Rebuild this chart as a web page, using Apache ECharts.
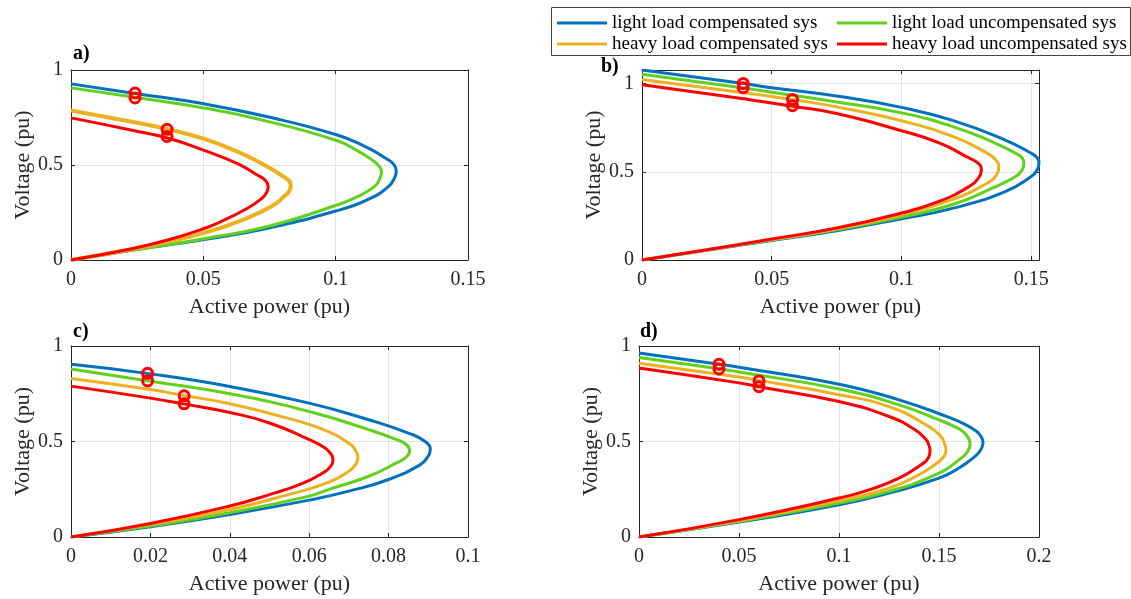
<!DOCTYPE html>
<html>
<head>
<meta charset="utf-8">
<title>PV curves</title>
<script src="https://cdn.jsdelivr.net/npm/echarts@6/dist/echarts.min.js"></script>
<style>
  html, body { margin: 0; padding: 0; background: #fff; }
  #chart { width: 1131px; height: 599px; }
</style>
</head>
<body>
<div id="chart"></div>
<script>
var seriesNames = ['light load compensated sys', 'light load uncompensated sys',
                   'heavy load compensated sys', 'heavy load uncompensated sys'];
var panelLabels = ['a)', 'b)', 'c)', 'd)'];

// axis ranges per panel
var xMax = [0.15, 0.153, 0.1, 0.2];
var xStep = [0.05, 0.05, 0.02, 0.05];
var yMax = [1, 1.077, 1, 1];

// panel a  -- points are [P, V], walked from the origin round the nose
var aLightComp = [[0,0],[0.0235,0.052],[0.0503,0.108],[0.0739,0.166],[0.1003,0.259],[0.1129,0.323],[0.1198,0.385],[0.1222,0.43],[0.1229,0.469],[0.1218,0.505],[0.1192,0.533],[0.1116,0.594],[0.1003,0.659],[0.0739,0.755],[0.0503,0.822],[0.0235,0.878],[0,0.927]];
var aLightUncomp = [[0,0],[0.0235,0.052],[0.0503,0.112],[0.0739,0.175],[0.1003,0.288],[0.108,0.332],[0.1145,0.385],[0.1166,0.425],[0.1173,0.463],[0.1162,0.497],[0.114,0.524],[0.108,0.577],[0.1003,0.629],[0.0739,0.731],[0.0503,0.80],[0.0235,0.858],[0,0.906]];
var aHeavyComp = [[0,0],[0.0235,0.058],[0.0365,0.096],[0.0503,0.143],[0.0629,0.201],[0.0755,0.28],[0.081,0.341],[0.0827,0.368],[0.083,0.393],[0.0825,0.416],[0.0805,0.437],[0.0739,0.493],[0.0629,0.57],[0.0503,0.637],[0.0362,0.69],[0.0235,0.726],[0,0.787]];
var aHeavyUncomp = [[0,0],[0.0235,0.061],[0.0365,0.105],[0.0503,0.166],[0.0565,0.201],[0.0665,0.271],[0.072,0.323],[0.0739,0.355],[0.0745,0.385],[0.0735,0.418],[0.0705,0.446],[0.0629,0.507],[0.0503,0.577],[0.0365,0.642],[0.0235,0.682],[0,0.748]];
var aMarks = [[0.0242,0.879],[0.0242,0.853],[0.0363,0.688],[0.0363,0.650]];

// panel b
var bLightComp = [[0,0],[0.025,0.055],[0.05,0.111],[0.075,0.166],[0.1,0.234],[0.12,0.294],[0.14,0.388],[0.15,0.473],[0.1523,0.51],[0.153,0.552],[0.1523,0.58],[0.15,0.605],[0.14,0.68],[0.12,0.79],[0.1,0.865],[0.075,0.93],[0.05,0.977],[0.0384,1.002],[0,1.077]];
var bLightUncomp = [[0,0],[0.025,0.056],[0.05,0.115],[0.075,0.171],[0.1,0.243],[0.12,0.316],[0.135,0.407],[0.144,0.473],[0.1465,0.51],[0.1472,0.548],[0.1465,0.578],[0.144,0.605],[0.135,0.67],[0.12,0.755],[0.1,0.834],[0.075,0.896],[0.05,0.951],[0.0384,0.977],[0,1.053]];
var bHeavyComp = [[0,0],[0.025,0.058],[0.05,0.115],[0.075,0.175],[0.1,0.256],[0.12,0.345],[0.133,0.435],[0.1365,0.48],[0.1375,0.525],[0.1362,0.57],[0.132,0.614],[0.12,0.699],[0.1,0.789],[0.075,0.868],[0.058,0.91],[0.05,0.927],[0.0384,0.95],[0,1.023]];
var bHeavyUncomp = [[0,0],[0.025,0.058],[0.05,0.119],[0.075,0.181],[0.1,0.266],[0.115,0.335],[0.126,0.416],[0.1297,0.465],[0.1308,0.51],[0.1294,0.55],[0.125,0.586],[0.115,0.661],[0.1,0.733],[0.075,0.83],[0.058,0.872],[0.0384,0.915],[0,0.994]];
var bMarks = [[0.039,1.0],[0.039,0.977],[0.058,0.91],[0.058,0.875]];

// panel c
var cLightComp = [[0,0],[0.02,0.054],[0.04,0.118],[0.06,0.193],[0.07,0.24],[0.08,0.301],[0.088,0.379],[0.0898,0.418],[0.0905,0.457],[0.0892,0.50],[0.085,0.544],[0.075,0.614],[0.06,0.701],[0.04,0.788],[0.02,0.854],[0,0.904]];
var cLightUncomp = [[0,0],[0.02,0.057],[0.04,0.127],[0.06,0.214],[0.065,0.249],[0.075,0.318],[0.082,0.388],[0.0845,0.42],[0.0853,0.452],[0.0845,0.483],[0.082,0.51],[0.075,0.562],[0.06,0.657],[0.04,0.75],[0.02,0.816],[0,0.88]];
var cHeavyComp = [[0,0],[0.02,0.066],[0.04,0.144],[0.055,0.223],[0.065,0.287],[0.07,0.344],[0.0717,0.38],[0.0723,0.419],[0.0717,0.452],[0.0705,0.483],[0.065,0.55],[0.055,0.62],[0.04,0.698],[0.0283,0.741],[0.02,0.772],[0,0.83]];
var cHeavyUncomp = [[0,0],[0.02,0.071],[0.04,0.162],[0.05,0.222],[0.058,0.278],[0.0635,0.336],[0.0654,0.37],[0.066,0.405],[0.0654,0.437],[0.064,0.466],[0.06,0.51],[0.05,0.597],[0.04,0.652],[0.0283,0.697],[0.02,0.727],[0,0.79]];
var cMarks = [[0.0193,0.857],[0.0193,0.817],[0.0285,0.739],[0.0285,0.697]];

// panel d
var dLightComp = [[0,0],[0.05,0.078],[0.1,0.169],[0.125,0.23],[0.15,0.308],[0.16,0.361],[0.168,0.422],[0.1708,0.455],[0.172,0.495],[0.1708,0.53],[0.1678,0.56],[0.163,0.59],[0.154,0.63],[0.13,0.718],[0.1,0.8],[0.05,0.889],[0.04,0.905],[0,0.963]];
var dLightUncomp = [[0,0],[0.05,0.082],[0.1,0.178],[0.125,0.239],[0.15,0.334],[0.16,0.404],[0.1645,0.45],[0.1655,0.491],[0.1645,0.522],[0.162,0.552],[0.1584,0.575],[0.15,0.613],[0.13,0.692],[0.1,0.775],[0.05,0.864],[0.04,0.881],[0,0.94]];
var dHeavyComp = [[0,0],[0.05,0.085],[0.1,0.19],[0.125,0.256],[0.14,0.326],[0.15,0.395],[0.1527,0.425],[0.1535,0.456],[0.1527,0.49],[0.151,0.526],[0.145,0.578],[0.125,0.683],[0.1,0.745],[0.06,0.82],[0.05,0.838],[0,0.91]];
var dHeavyUncomp = [[0,0],[0.05,0.091],[0.1,0.204],[0.115,0.247],[0.13,0.308],[0.141,0.378],[0.1447,0.415],[0.1455,0.453],[0.1449,0.482],[0.1435,0.51],[0.138,0.561],[0.125,0.631],[0.1,0.709],[0.06,0.787],[0.05,0.807],[0,0.885]];
var dMarks = [[0.04,0.904],[0.04,0.88],[0.06,0.817],[0.06,0.787]];

var panels = [
    {curves: [aLightComp, aLightUncomp, aHeavyComp, aHeavyUncomp], marks: aMarks},
    {curves: [bLightComp, bLightUncomp, bHeavyComp, bHeavyUncomp], marks: bMarks},
    {curves: [cLightComp, cLightUncomp, cHeavyComp, cHeavyUncomp], marks: cMarks},
    {curves: [dLightComp, dLightUncomp, dHeavyComp, dHeavyUncomp], marks: dMarks}
];

var colors = ['#0072BD', '#62D11D', '#EDB120', '#FF0000'];
var font = '"Liberation Serif", "Times New Roman", serif';
var ink = '#262626';

var grids = [
    {left: 71, top: 70, width: 397, height: 190},
    {left: 642, top: 70, width: 397, height: 190},
    {left: 71, top: 346, width: 397, height: 191},
    {left: 639, top: 346, width: 400, height: 191}
];
var labelPos = [[73, 44], [601, 57], [73, 322], [640, 322]];

var xAxes = [], yAxes = [], series = [], titles = [];

// main axes (bottom / left)
for (var i = 0; i < 4; i++) {
    xAxes.push({
        type: 'value', gridIndex: i, min: 0, max: xMax[i], interval: xStep[i],
        name: 'Active power (pu)', nameLocation: 'middle', nameGap: 36,
        nameTextStyle: {fontFamily: font, fontSize: 22, color: ink},
        axisLine: {show: true, onZero: false, lineStyle: {color: ink, width: 1}},
        axisTick: {show: true, inside: true, length: 4, lineStyle: {color: ink}},
        axisLabel: {fontFamily: font, fontSize: 20, color: ink, margin: 10, showMaxLabel: i !== 1},
        splitLine: {show: true, showMinLine: false, showMaxLine: false, lineStyle: {color: '#e3e3e3'}}
    });
    yAxes.push({
        type: 'value', gridIndex: i, min: 0, max: yMax[i], interval: 0.5,
        name: 'Voltage (pu)', nameLocation: 'middle', nameGap: 37,
        nameTextStyle: {fontFamily: font, fontSize: 22, color: ink},
        axisLine: {show: true, onZero: false, lineStyle: {color: ink, width: 1}},
        axisTick: {show: true, inside: true, length: 4, lineStyle: {color: ink}},
        axisLabel: {fontFamily: font, fontSize: 20, color: ink, margin: 8, showMaxLabel: i !== 1},
        splitLine: {show: true, showMinLine: false, showMaxLine: false, lineStyle: {color: '#e3e3e3'}}
    });
}
// mirror axes (top / right) to close the box
for (var i = 0; i < 4; i++) {
    xAxes.push({
        type: 'value', gridIndex: i, position: 'top', min: 0, max: xMax[i], interval: xStep[i],
        axisLine: {show: true, onZero: false, lineStyle: {color: ink, width: 1}},
        axisTick: {show: true, inside: true, length: 4, lineStyle: {color: ink}},
        axisLabel: {show: false}, splitLine: {show: false}
    });
    yAxes.push({
        type: 'value', gridIndex: i, position: 'right', min: 0, max: yMax[i], interval: 0.5,
        axisLine: {show: true, onZero: false, lineStyle: {color: ink, width: 1}},
        axisTick: {show: true, inside: true, length: 4, lineStyle: {color: ink}},
        axisLabel: {show: false}, splitLine: {show: false}
    });
}

for (var i = 0; i < 4; i++) {
    var p = panels[i];
    for (var k = 0; k < 4; k++) {
        series.push({
            name: seriesNames[k], type: 'line', xAxisIndex: i, yAxisIndex: i,
            data: p.curves[k], showSymbol: false, smooth: 0.5,
            itemStyle: {color: colors[k]},
            lineStyle: {color: colors[k], width: (i === 0 && k === 2) ? 4 : 3},
            z: 2 + k
        });
    }
    series.push({
        name: 'marks', type: 'scatter', xAxisIndex: i, yAxisIndex: i,
        data: p.marks, symbol: 'circle', symbolSize: 10,
        itemStyle: {color: 'rgba(255,255,255,0)', borderColor: '#FF0000', borderWidth: 3, opacity: 1},
        z: 10
    });
    titles.push({
        text: panelLabels[i], left: labelPos[i][0], top: labelPos[i][1], padding: 0,
        textStyle: {fontFamily: font, fontSize: 20, fontWeight: 'bold', color: '#000'}
    });
}

var legendBase = {
    orient: 'vertical', top: 13, itemWidth: 50, itemHeight: 3, itemGap: 1,
    icon: 'rect', selectedMode: false, padding: 0,
    textStyle: {fontFamily: font, fontSize: 19, color: '#000', lineHeight: 20}
};

var chart = echarts.init(document.getElementById('chart'));
chart.setOption({
    animation: false,
    backgroundColor: '#fff',
    title: titles,
    grid: grids,
    xAxis: xAxes,
    yAxis: yAxes,
    legend: [
        Object.assign({}, legendBase, {left: 557, data: [seriesNames[0], seriesNames[2]]}),
        Object.assign({}, legendBase, {left: 837, data: [seriesNames[1], seriesNames[3]]})
    ],
    graphic: [{
        type: 'rect', left: 551, top: 7, z: -1,
        shape: {width: 579, height: 48},
        style: {fill: '#fff', stroke: '#444', lineWidth: 1}
    }],
    series: series
});
</script>
</body>
</html>
